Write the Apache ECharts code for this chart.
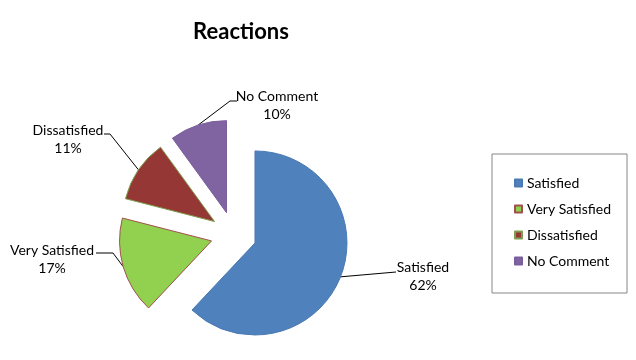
<!DOCTYPE html>
<html>
<head>
<meta charset="utf-8">
<script src="https://cdn.jsdelivr.net/npm/echarts@6/dist/echarts.min.js"></script>
<style>
html,body{margin:0;padding:0;background:#fff;}
#chart{width:636px;height:360px;}
</style>
</head>
<body>
<div id="chart"></div>
<script>
const categories = ['Satisfied', 'Very Satisfied', 'Dissatisfied', 'No Comment'];
const values = [62, 17, 11, 10];
const titleText = 'Reactions';

const fills = ['#4F81BD', '#92D050', '#953735', '#8064A2'];
const borders = ['#4A7AB3', '#A0504D', '#7F9F50', '#7A5F9C'];
const FONT = 'Lato';
const EXPLODE = 23;

// label placement (layout only): centre of the label block and leader-line bend/end
const labelSpots = [
  {cx: 423, cy: 276, mid: [396, 272], end: [396, 272]},
  {cx: 52,  cy: 259, mid: [113, 253], end: [96, 253]},
  {cx: 68,  cy: 139, mid: [110, 134], end: [104, 134]},
  {cx: 277, cy: 105, mid: [230, 101], end: [237, 101]}
];

// explode offset of each slice (sector is translated by this, label + line are local to it)
const total = values.reduce((a, b) => a + b, 0);
let acc = 0;
const offsets = values.map(v => {
  const midA = (acc + v / 2) / total * Math.PI * 2;
  acc += v;
  return [EXPLODE * Math.sin(midA), -EXPLODE * Math.cos(midA)];
});

const chart = echarts.init(document.getElementById('chart'), null, {renderer: 'canvas'});
chart.setOption({
  animation: false,
  backgroundColor: '#ffffff',
  title: {
    text: titleText,
    left: 236,
    textAlign: 'center',
    top: 16,
    textStyle: {fontFamily: FONT, fontSize: 22, fontWeight: 'bold', color: '#000'}
  },
  legend: {
    orient: 'vertical',
    left: 492,
    top: 154,
    data: categories,
    icon: 'rect',
    itemWidth: 7,
    itemHeight: 7,
    itemGap: 10,
    borderColor: '#868686',
    borderWidth: 1,
    padding: [21, 16, 24, 22],
    selectedMode: false,
    textStyle: {fontFamily: FONT, fontSize: 14, lineHeight: 16, color: '#000'}
  },
  series: [{
    type: 'pie',
    center: [233.6, 234.5],
    radius: 92,
    startAngle: 90,
    clockwise: true,
    selectedMode: 'multiple',
    selectedOffset: EXPLODE,
    emphasis: {disabled: true},
    data: categories.map((n, i) => ({
      name: n,
      value: values[i],
      selected: true,
      itemStyle: {color: fills[i], borderColor: borders[i], borderWidth: 1},
      select: {itemStyle: {color: fills[i], borderColor: borders[i], borderWidth: 1}}
    })),
    label: {
      show: true,
      position: 'outside',
      formatter: '{b}\n{d}%',
      fontFamily: FONT,
      fontSize: 14,
      lineHeight: 18,
      color: '#000'
    },
    labelLine: {show: true, length: 10, length2: 10, lineStyle: {color: '#000', width: 1}},
    labelLayout: function (p) {
      const s = labelSpots[p.dataIndex];
      const o = offsets[p.dataIndex];
      const r = p.labelRect;
      const ax = p.align === 'left' ? r.x : (p.align === 'right' ? r.x + r.width : r.x + r.width / 2);
      const ay = p.verticalAlign === 'top' ? r.y : (p.verticalAlign === 'bottom' ? r.y + r.height : r.y + r.height / 2);
      const a = p.labelLinePoints ? p.labelLinePoints[0] : [s.mid[0] - o[0], s.mid[1] - o[1]];
      return {
        dx: s.cx - ax - o[0],
        dy: s.cy - ay - o[1],
        align: 'center',
        verticalAlign: 'middle',
        labelLinePoints: [a, [s.mid[0] - o[0], s.mid[1] - o[1]], [s.end[0] - o[0], s.end[1] - o[1]]]
      };
    }
  }]
});
</script>
</body>
</html>
